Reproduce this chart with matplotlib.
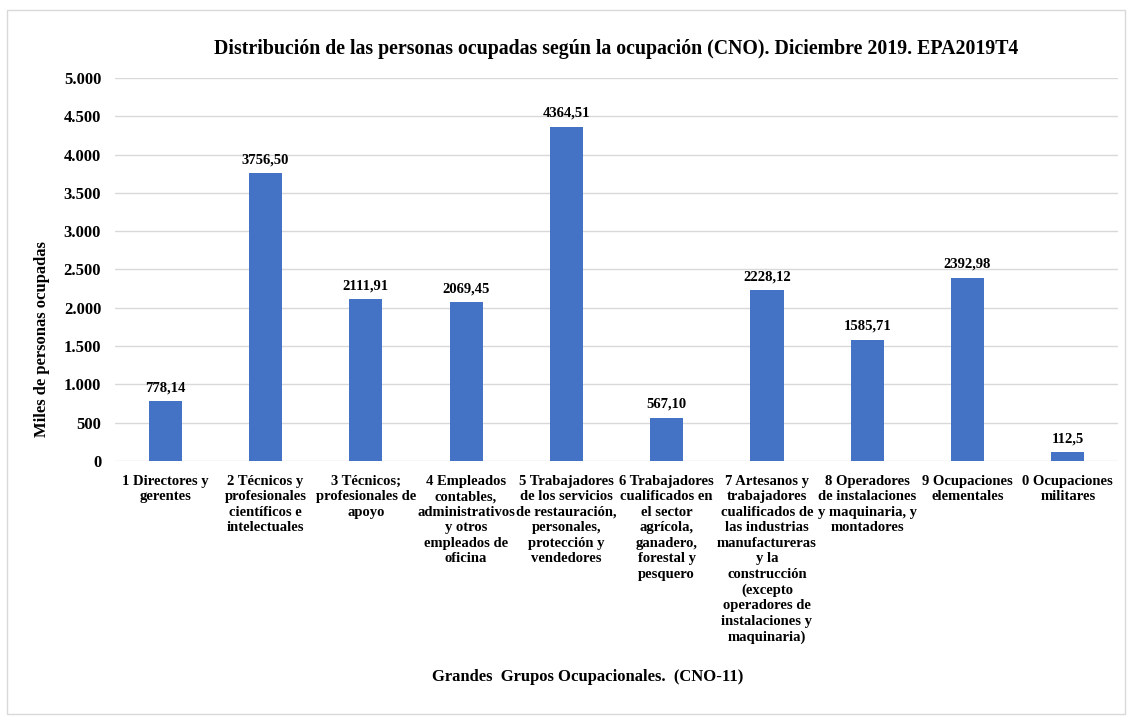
import matplotlib
matplotlib.use("Agg")
from matplotlib import pyplot as plt
from matplotlib.patches import Rectangle
from matplotlib.ticker import FuncFormatter

# Grandes grupos ocupacionales (CNO-11)
categories = [
    "1 Directores y\ngerentes",
    "2 Técnicos y\nprofesionales\ncientíficos e\nintelectuales",
    "3 Técnicos;\nprofesionales de\napoyo",
    "4 Empleados\ncontables,\nadministrativos\ny otros\nempleados de\noficina",
    "5 Trabajadores\nde los servicios\nde restauración,\npersonales,\nprotección y\nvendedores",
    "6 Trabajadores\ncualificados en\nel sector\nagrícola,\nganadero,\nforestal y\npesquero",
    "7 Artesanos y\ntrabajadores\ncualificados de\nlas industrias\nmanufactureras\ny la\nconstrucción\n(excepto\noperadores de\ninstalaciones y\nmaquinaria)",
    "8 Operadores\nde instalaciones\ny maquinaria, y\nmontadores",
    "9 Ocupaciones\nelementales",
    "0 Ocupaciones\nmilitares",
]
values = [778.14, 3756.50, 2111.91, 2069.45, 4364.51, 567.10, 2228.12, 1585.71, 2392.98, 112.5]
value_labels = ["778,14", "3756,50", "2111,91", "2069,45", "4364,51",
                "567,10", "2228,12", "1585,71", "2392,98", "112,5"]

plt.rcParams['font.family'] = ['Liberation Serif', 'DejaVu Serif']
plt.rcParams['font.weight'] = 'bold'

fig = plt.figure(figsize=(11.31, 7.2), dpi=100)
ax = fig.add_axes([0.1017, 0.3597, 0.8868, 0.532])

x = range(len(categories))
bars = ax.bar(x, values, width=0.33, color="#4472C4", zorder=3)

for rect, lab in zip(bars, value_labels):
    ax.annotate(lab, (rect.get_x() + rect.get_width() / 2, rect.get_height()),
                xytext=(0, 5), textcoords="offset points", ha="center", va="bottom",
                fontsize=10.5, fontweight="bold")

ax.set_xlim(-0.5, len(categories) - 0.5)
ax.set_ylim(0, 5000)
ax.set_yticks(range(0, 5001, 500))
ax.yaxis.set_major_formatter(FuncFormatter(lambda v, p: f"{int(v):,}".replace(",", ".")))
ax.set_xticks(list(x))
ax.set_xticklabels(categories, fontsize=10.5, fontweight="bold", linespacing=1.25)
ax.tick_params(axis="y", labelsize=12, length=0, pad=10)
ax.tick_params(axis="x", length=0, pad=10)
for lab in ax.get_yticklabels():
    lab.set_fontweight("bold")

ax.grid(axis="y", color="#d9d9d9", linewidth=1, zorder=0)
for s in ax.spines.values():
    s.set_visible(False)

ax.set_title("Distribución de las personas ocupadas según la ocupación (CNO). Diciembre 2019. EPA2019T4",
             fontsize=14.3, fontweight="bold", pad=17)
fig.text(42 / 1131, 1 - 339 / 720, "Miles de personas ocupadas", rotation=90,
         ha="center", va="center", fontsize=12, fontweight="bold")
fig.text(588 / 1131, 1 - 677 / 720, "Grandes  Grupos Ocupacionales.  (CNO-11)",
         ha="center", va="center", fontsize=12, fontweight="bold")

# borde exterior del gráfico
fig.patches.append(Rectangle((7 / 1131, 6 / 720), 1118 / 1131, 704 / 720,
                             transform=fig.transFigure, fill=False,
                             edgecolor="#d9d9d9", linewidth=1))

plt.savefig("out.png", dpi=100)
